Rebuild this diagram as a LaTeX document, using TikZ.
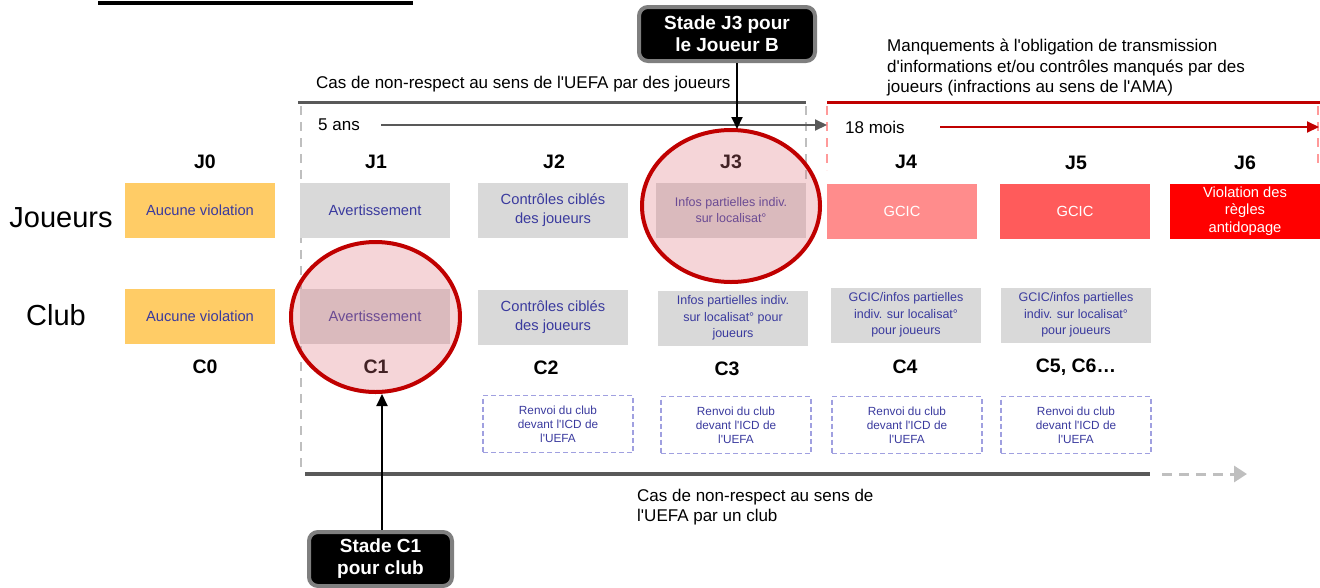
\documentclass[tikz,border=0pt]{standalone}
\usepackage{fontspec}
\setmainfont{Liberation Sans}
\usetikzlibrary{arrows.meta,shapes.geometric}
\definecolor{orangebox}{HTML}{FFCC66}
\definecolor{graybox}{HTML}{D9D9D9}
\definecolor{txtblue}{HTML}{3A3A9E}
\definecolor{lineg}{HTML}{595959}
\definecolor{dashg}{HTML}{BFBFBF}
\definecolor{darkred}{HTML}{C00000}
\definecolor{pinkd}{HTML}{FF9A9A}
\definecolor{jfour}{HTML}{FF8C8C}
\definecolor{jfive}{HTML}{FF5B5B}
\definecolor{jsix}{HTML}{FF0000}
\definecolor{renvoi}{HTML}{A0A0E0}
\definecolor{ellfill}{RGB}{221,115,125}
\definecolor{calloutborder}{HTML}{7F7F7F}
\newcommand{\myap}{\textquotesingle}
\begin{document}
\begin{tikzpicture}[x=1pt,y=-1pt,
 box/.style={rectangle,minimum width=150pt,minimum height=55pt,inner sep=0pt,align=center,text=txtblue,font=\fontsize{14.7}{19.5}\selectfont},
 smallbox/.style={box,font=\fontsize{12.5}{16.5}\selectfont},
 renvoibox/.style={rectangle,draw=renvoi,line width=1.5pt,dash pattern=on 5pt off 3pt,minimum width=150pt,minimum height=57pt,inner sep=0pt,align=center,text=txtblue,font=\fontsize{11.8}{14}\selectfont},
 stage/.style={font=\bfseries\fontsize{19.5}{22}\selectfont,inner sep=0pt},
 rowlabel/.style={font=\fontsize{29}{32}\selectfont,inner sep=0pt},
 note/.style={font=\fontsize{17}{20.5}\selectfont,align=left,inner sep=0pt},
 callout/.style={rectangle,rounded corners=9pt,fill=black,draw=calloutborder,line width=4pt,text=white,align=center,font=\bfseries\fontsize{19}{22}\selectfont,inner sep=0pt},
 hl/.style={ellipse,draw=darkred,line width=4pt,fill=ellfill,fill opacity=0.3,inner sep=0pt},
 connector/.style={line width=2pt,-{Triangle[length=12pt,width=11pt]}},
 gdash/.style={dashg,line width=2.5pt,dash pattern=on 9pt off 7pt},
 pdash/.style={pinkd,line width=2.5pt,dash pattern=on 9pt off 7pt},
]
\useasboundingbox (0,0) rectangle (1320,587);

% top-left rule
\draw[black,line width=4pt] (98,3) -- (413,3);

% texts
\node[note,anchor=west] (casj) at (316,84) {Cas de non-respect au sens de l\myap UEFA par des joueurs};
\node[note,anchor=west] (manq) at (887,68) {Manquements à l\myap obligation de transmission\\d\myap informations et/ou contrôles manqués par des\\joueurs (infractions au sens de l\myap AMA)};
\node[note,anchor=west] (cinq) at (318,125) {5 ans};
\node[note,anchor=west] (dixhuit) at (845,127) {18 mois};
\node[note,anchor=west] (casc) at (637,507) {Cas de non-respect au sens de\\l\myap UEFA par un club};

% horizontal rules
\draw[lineg,line width=3pt] (298,102) -- (806,102);
\draw[darkred,line width=3pt] (827,102) -- (1320,102);
\draw[lineg,line width=4pt] (305,474) -- (1150,474);

% dashed verticals
\draw[gdash] (301,106) -- (301,468);
\draw[gdash] (806,106) -- (806,180);
\draw[pdash] (827,106) -- (827,170);
\draw[pdash] (1318,106) -- (1318,168);

% period arrows
\coordinate (cinqend) at (827,125);
\draw[connector,lineg] (381,125) -- (cinqend);
\coordinate (dixend) at (1319,127);
\draw[connector,darkred] (940,127) -- (dixend);
\coordinate (bend) at (1247,474);
\draw[dashg,line width=3pt,dash pattern=on 10pt off 7pt,-{Triangle[length=13pt,width=16pt]}] (1162,474) -- (bend);

% row labels
\node[rowlabel] (joueurs) at (61,218) {Joueurs};
\node[rowlabel] (club) at (56,315) {Club};

% stage labels
\node[stage] (lj0) at (205,162) {J0};
\node[stage] (lj1) at (376,162) {J1};
\node[stage] (lj2) at (554,162) {J2};
\node[stage] (lj3) at (731,162) {J3};
\node[stage] (lj4) at (906,162) {J4};
\node[stage] (lj5) at (1076,163) {J5};
\node[stage] (lj6) at (1245,163) {J6};
\node[stage] (lc0) at (205,367) {C0};
\node[stage] (lc1) at (376,367) {C1};
\node[stage] (lc2) at (546,368) {C2};
\node[stage] (lc3) at (727,369) {C3};
\node[stage] (lc4) at (905,367) {C4};
\node[stage] (lc5) at (1076,367) {C5, C6…};

% player row
\node[box,fill=orangebox] (j0) at (200,210) {Aucune violation};
\node[box,fill=graybox] (j1) at (375,210) {Avertissement};
\node[box,fill=graybox] (j2) at (553,210) {Contrôles ciblés\\des joueurs};
\node[smallbox,fill=graybox] (j3) at (731,210) {Infos partielles indiv.\\sur localisat°};
\node[box,fill=jfour,text=white] (j4) at (902,211) {GCIC};
\node[box,fill=jfive,text=white] (j5) at (1075,211) {GCIC};
\node[box,fill=jsix,text=white,font=\fontsize{14.7}{17.5}\selectfont] (j6) at (1245,211) {Violation des\\règles\\antidopage};

% club row
\node[box,fill=orangebox] (c0) at (200,316) {Aucune violation};
\node[box,fill=graybox] (c1) at (375,316) {Avertissement};
\node[box,fill=graybox] (c2) at (553,317) {Contrôles ciblés\\des joueurs};
\node[smallbox,fill=graybox] (c3) at (733,318) {Infos partielles indiv.\\sur localisat° pour\\joueurs};
\node[smallbox,fill=graybox] (c4) at (906,315) {GCIC/infos partielles\\indiv. sur localisat°\\pour joueurs};
\node[smallbox,fill=graybox] (c5) at (1076,315) {GCIC/infos partielles\\indiv. sur localisat°\\pour joueurs};

% referral boxes
\node[renvoibox] (r2) at (558,424) {Renvoi du club\\devant l\myap ICD de\\l\myap UEFA};
\node[renvoibox] (r3) at (736,425) {Renvoi du club\\devant l\myap ICD de\\l\myap UEFA};
\node[renvoibox] (r4) at (907,425) {Renvoi du club\\devant l\myap ICD de\\l\myap UEFA};
\node[renvoibox] (r5) at (1076,425) {Renvoi du club\\devant l\myap ICD de\\l\myap UEFA};

% highlight ellipses
\node[hl,minimum width=178pt,minimum height=152pt] (ej3) at (731,206) {};
\node[hl,minimum width=169pt,minimum height=150pt] (ec1) at (375.5,317) {};

% callouts
\node[callout,minimum width=176pt,minimum height=54pt] (cj3) at (727,34) {Stade J3 pour\\le Joueur B};
\node[callout,minimum width=143pt,minimum height=54pt] (cc1) at (380.5,559) {Stade C1\\pour club};

\coordinate (ej3tip) at (737,129);
\draw[connector,black] (cj3.south -| ej3tip) -- (ej3tip);
\coordinate (ec1tip) at (382,394);
\draw[connector,black] (cc1.north -| ec1tip) -- (ec1tip);
\end{tikzpicture}
\end{document}
